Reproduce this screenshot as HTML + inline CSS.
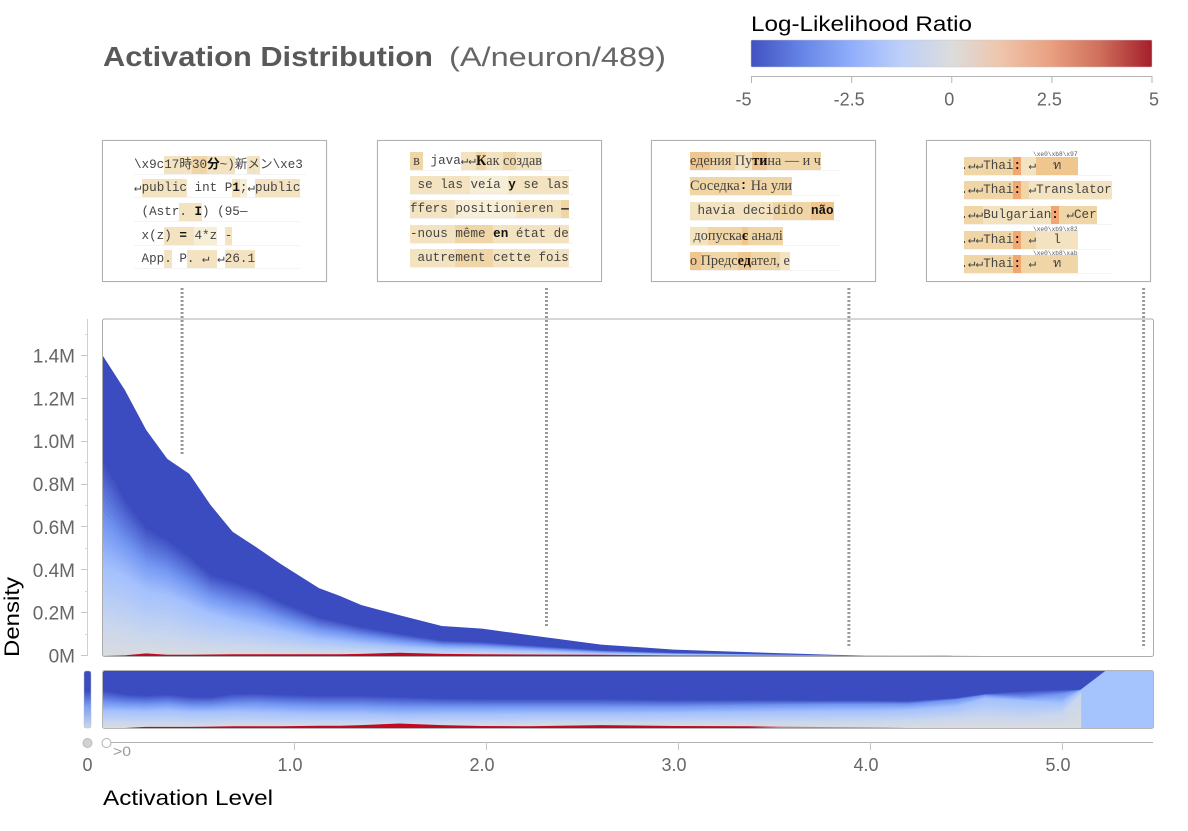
<!DOCTYPE html>
<html lang="en">
<head>
<meta charset="utf-8">
<title>Activation Distribution</title>
<style>
html,body{margin:0;padding:0;background:#fff;}
#root{position:relative;width:1188px;height:831px;overflow:hidden;font-family:"Liberation Sans","Noto Sans CJK JP",sans-serif;}
svg{position:absolute;left:0;top:0;}
.box{position:absolute;top:140px;height:140px;width:223px;border:1px solid #b0b0b0;background:#fff;box-shadow:0 0 1px #ddd;}
.row{position:absolute;height:18px;line-height:18px;white-space:pre;overflow:hidden;font-family:"Liberation Mono","Noto Sans CJK JP",monospace;font-size:12.6px;color:#444;box-shadow:0 1px 0 #f3f3f3;filter:blur(.3px);}
.row span{display:inline-block;height:18px;vertical-align:top;}
.s{font-family:"Liberation Serif",serif;font-size:14.2px;}
.b{font-weight:bold;color:#111;}
.a{background:#f7eed8;}
.c{background:#f4e3c0;}
.d{background:#f0d6a6;}
.e{background:#f0c68f;}
.f{background:#f2a670;}
.tiny{position:absolute;font:6.2px "Liberation Mono",monospace;color:#555;white-space:pre;}
</style>
</head>
<body>
<div id="root">

<div class="box" style="left:102px">
 <div class="row" style="left:31px;top:15px;width:172px"><span>\x9c</span><span class="c">17時</span><span class="d">30</span><span class="c b">分</span><span class="c">~)</span><span>新</span><span class="c">メ</span><span>ン\xe3</span></div>
 <div class="row" style="left:31px;top:38px;width:168px"><span>↵</span><span class="c">public</span><span> int P</span><span class="c b">1</span><span class="a">;</span><span>↵</span><span class="c">public</span></div>
 <div class="row" style="left:31px;top:62px;width:165px"><span> (Astr</span><span class="c">. </span><span class="c b">I</span><span>) (95—</span></div>
 <div class="row" style="left:31px;top:86px;width:165px"><span> x(z</span><span class="c">)</span><span class="c b"> = </span><span class="a">4*z</span><span> </span><span class="c">-</span></div>
 <div class="row" style="left:31px;top:109px;width:165px"><span> App</span><span class="c">.</span><span> P</span><span class="c">. ↵ </span><span>↵</span><span class="c">26.1</span></div>
</div>

<div class="box" style="left:377px">
 <div class="row" style="left:32px;top:11px;width:163px"><span class="d s" style="width:13px;text-align:center">в</span><span> java</span><span class="c">↵↵</span><span class="d s b">К</span><span class="c s">ак </span><span class="d s">со</span><span class="c s">здав</span></div>
 <div class="row" style="left:32px;top:35px;width:163px"><span class="c"> se </span><span class="c">las </span><span class="a">veía </span><span class="c b">y</span><span class="c"> se las</span></div>
 <div class="row" style="left:32px;top:59px;width:163px"><span class="c">ffers </span><span class="a">position</span><span class="c">ieren </span><span class="d b">—</span></div>
 <div class="row" style="left:32px;top:84px;width:163px"><span class="c">-nous </span><span class="d">même </span><span class="c b">en </span><span class="c">état de</span></div>
 <div class="row" style="left:32px;top:108px;width:163px"><span class="c"> autre</span><span class="d">ment </span><span class="c">cette fois</span></div>
</div>

<div class="box" style="left:651px">
 <div class="row" style="left:38px;top:11px;width:150px"><span class="e s">еде</span><span class="d s">ния </span><span class="c s">Пу</span><span class="e s b">ти</span><span class="d s">на — и ч</span></div>
 <div class="row" style="left:38px;top:36px;width:150px"><span class="d s">Соседка</span><span class="d b">:</span><span class="d s"> На ули</span></div>
 <div class="row" style="left:38px;top:61px;width:150px"><span class="c"> havia deci</span><span class="d">dido </span><span class="e b">não</span></div>
 <div class="row" style="left:38px;top:86px;width:150px"><span class="c s"> до</span><span class="d s">пуска</span><span class="e s b">є</span><span class="d s"> аналі</span></div>
 <div class="row" style="left:38px;top:111px;width:150px"><span class="e s">о </span><span class="d s">Предс</span><span class="e s b">ед</span><span class="d s">ател,</span><span class="c s"> е</span></div>
</div>

<div class="box" style="left:926px">
 <div class="tiny" style="left:106px;top:10px">\xe0\xb8\x97</div>
 <div class="tiny" style="left:106px;top:85px">\xe0\xb9\x82</div>
 <div class="tiny" style="left:106px;top:109px">\xe0\xb8\xab</div>
 <div class="row" style="left:37px;top:16px;width:149px"><span class="d" style="margin-left:-3.5px">.↵↵Thai</span><span class="f b">:</span><span class="c"> ↵</span><span class="e" style="width:42px;text-align:center">ท</span></div>
 <div class="row" style="left:37px;top:40px;width:149px"><span class="d" style="margin-left:-3.5px">.↵↵Thai</span><span class="f b">:</span><span class="d"> </span><span class="c">↵Translator</span></div>
 <div class="row" style="left:37px;top:65px;width:149px"><span class="d" style="margin-left:-3.5px">.↵↵</span><span class="c">Bulgarian</span><span class="f b">:</span><span class="d"> ↵Cer</span></div>
 <div class="row" style="left:37px;top:90px;width:149px"><span class="d" style="margin-left:-3.5px">.↵↵Thai</span><span class="f b">:</span><span class="d"> ↵</span><span class="c" style="width:42px;text-align:center">l</span></div>
 <div class="row" style="left:37px;top:114px;width:149px"><span class="d" style="margin-left:-3.5px">.↵↵Thai</span><span class="f b">:</span><span class="d"> ↵</span><span class="d" style="width:42px;text-align:center">ท</span></div>
</div>

<svg id="chart" width="1188" height="831" viewBox="0 0 1188 831">
 <defs>
  <linearGradient id="legendGrad">
   <stop offset="0" stop-color="#4151c2"/><stop offset=".12" stop-color="#6482e4"/><stop offset=".25" stop-color="#90aefa"/><stop offset=".37" stop-color="#bccefa"/><stop offset=".5" stop-color="#dcdcdc"/><stop offset=".62" stop-color="#eec6ad"/><stop offset=".75" stop-color="#e99f80"/><stop offset=".87" stop-color="#cf6f5c"/><stop offset="1" stop-color="#a41e2b"/>
  </linearGradient>
  <linearGradient id="miniGrad" x1="0" y1="0" x2="0" y2="1">
   <stop offset="0" stop-color="#3b4cc0"/><stop offset=".35" stop-color="#3b4cc0"/><stop offset=".62" stop-color="#7c9ef5"/><stop offset="1" stop-color="#cdd8ee"/>
  </linearGradient>
  <linearGradient id="redGrad" gradientUnits="userSpaceOnUse" x1="103" y1="0" x2="890" y2="0">
   <stop offset="0" stop-color="#c20a24"/><stop offset=".62" stop-color="#c20a24"/><stop offset=".72" stop-color="#c43a48"/><stop offset="1" stop-color="#cf8088"/>
  </linearGradient>
  <linearGradient id="stripRedGrad" gradientUnits="userSpaceOnUse" x1="103" y1="0" x2="890" y2="0">
   <stop offset="0" stop-color="#c20a24"/><stop offset=".82" stop-color="#c20a24"/><stop offset=".86" stop-color="#cf7b84"/><stop offset="1" stop-color="#cf8088"/>
  </linearGradient>
  <clipPath id="mainClip"><rect x="103" y="319" width="1050" height="337"/></clipPath>
  <clipPath id="stripClip"><rect x="103" y="671" width="1050" height="57" rx="2"/></clipPath>
 </defs>
 <g id="layer"></g>
</svg>
</div>

<script>
const activationLevels = [0.005,0.12,0.23,0.34,0.455,0.565,0.68,0.8,0.93,1.13,1.24,1.35,1.55,1.77,1.98,2.22,2.6,2.98,3.4,3.8,4.0,4.2,4.45,4.6,4.8,5.0,5.1];
const totalDensity = [1.4,1.24,1.055,0.92,0.85,0.705,0.58,0.51,0.43,0.317,0.28,0.238,0.19,0.14,0.128,0.098,0.053,0.03,0.017,0.006,0.002,0.001,0.0005,0.0003,0.0002,0.0001,0];
const darkShare = [0.67,0.60,0.58,0.60,0.56,0.55,0.61,0.62,0.60,0.58,0.58,0.58,0.56,0.53,0.52,0.52,0.52,0.50,0.50,0.49,0.49,0.48,0.53,0.60,0.66,0.68,0.67];
const midShare = [0.46,0.43,0.42,0.44,0.40,0.40,0.43,0.44,0.42,0.40,0.40,0.40,0.38,0.38,0.38,0.38,0.38,0.38,0.40,0.42,0.42,0.42,0.50,0.58,0.54,0.60,0.67];
const lightShare = [0.30,0.30,0.29,0.31,0.28,0.28,0.29,0.28,0.27,0.25,0.25,0.25,0.23,0.24,0.24,0.25,0.25,0.26,0.28,0.30,0.30,0.32,0.38,0.52,0.48,0.44,0.67];
const paleShare = [0.12,0.11,0.10,0.11,0.09,0.09,0.10,0.10,0.09,0.09,0.09,0.09,0.08,0.09,0.09,0.10,0.10,0.10,0.11,0.12,0.12,0.14,0.18,0.22,0.18,0.26,0.60];
const redDensity = [0,0.003,0.012,0.006,0.006,0.007,0.008,0.008,0.008,0.008,0.008,0.01,0.015,0.01,0.008,0.007,0.006,0.003,0.003,0.003,0.002,0,0,0,0,0,0];
const redShare = [0,0,0.02,0.02,0.02,0.025,0.03,0.03,0.03,0.04,0.04,0.05,0.08,0.05,0.035,0.03,0.05,0.035,0.03,0.015,0.012,0,0,0,0,0,0];
const tailLevels = [5.1,5.225,5.5];
const tailShare = [0.68,1,1];
const yTicks = [0,0.2,0.4,0.6,0.8,1.0,1.2,1.4];
const yTickLabels = ["0M","0.2M","0.4M","0.6M","0.8M","1.0M","1.2M","1.4M"];
const yMinorTicks = [0.1,0.3,0.5,0.7,0.9,1.1,1.3,1.5];
const xTicks = [1,2,3,4,5];
const xTickLabels = ["1.0","2.0","3.0","4.0","5.0"];
const legendTicks = [-5,-2.5,0,2.5,5];
const legendLabels = ["-5","-2.5","0","2.5","5"];
const exampleLevels = [0.417,2.315,3.89,5.425];
const exampleDensity = [0.933,0.135,0.037,0.037];

const NS = "http://www.w3.org/2000/svg";
const layer = document.getElementById("layer");
const xScale = a => 102 + 192 * a;
const yScale = m => 656 - 214.3 * m;
const stripY = f => 728 - 57 * f;
const legendX = v => 751.5 + (v + 5) * 40.05;

function add(tag, attrs, parent) {
  const el = document.createElementNS(NS, tag);
  for (const k in attrs) el.setAttribute(k, attrs[k]);
  (parent || layer).appendChild(el);
  return el;
}
function label(str, x, y, size, fill, anchor, width) {
  const el = add("text", {x:x, y:y, "font-size":size, fill:fill, "text-anchor":anchor || "start"});
  if (width) { el.setAttribute("textLength", width); el.setAttribute("lengthAdjust", "spacingAndGlyphs"); }
  el.textContent = str;
  return el;
}
function hex(c){return [parseInt(c.slice(1,3),16),parseInt(c.slice(3,5),16),parseInt(c.slice(5,7),16)];}
function mix(a,b,t){const p=hex(a),q=hex(b);return "rgb("+p.map((v,i)=>Math.round(v+(q[i]-v)*t)).join(",")+")";}

const boundaries = [darkShare, midShare, lightShare, paleShare];
const boundaryColors = ["#3b4cc0","#7396f2","#a5c2fd","#c9d6ee","#dadcde"];
const STEPS = 10;

function drawStack(parent, heightAt, prefix) {
  const base = activationLevels.map((a,i)=>xScale(a)+","+heightAt(i,0).toFixed(2));
  const baseline = base.slice().reverse().join(" ");
  const top = activationLevels.map((a,i)=>xScale(a)+","+heightAt(i,1).toFixed(2)).join(" ");
  const full = add("polygon",{points:top+" "+baseline,fill:boundaryColors[0]},parent);
  
  
  for (let b=0;b<boundaries.length;b++) {
    const upper = boundaries[b];
    const lower = b+1<boundaries.length ? boundaries[b+1] : activationLevels.map(()=>0);
    for (let s=0;s<STEPS;s++) {
      const t=s/STEPS;
      const pts = activationLevels.map((a,i)=>xScale(a)+","+heightAt(i,upper[i]+(lower[i]-upper[i])*t).toFixed(2)).join(" ");
      const band = add("polygon",{points:pts+" "+baseline,fill:mix(boundaryColors[b],boundaryColors[b+1],t)},parent);
      
      
    }
  }
}

/* main chart */
const mainBg = add("rect",{x:103,y:319,width:1050,height:337,fill:"#fff"});


const mainG = add("g",{"clip-path":"url(#mainClip)"});


drawStack(mainG,(i,f)=>yScale(totalDensity[i]*f),"main");
const mainRedTop = activationLevels.map((a,i)=>xScale(a)+","+yScale(redDensity[i]).toFixed(2)).join(" ");
const mainRed = add("polygon",{points:mainRedTop+" "+xScale(5.1)+",656 "+xScale(0.005)+",656",fill:"url(#redGrad)"},mainG);


const mainFrame = add("rect",{x:102.5,y:319,width:1051,height:337.5,rx:2,fill:"none",stroke:"#ababab"});



/* normalised strip */
const stripG = add("g",{"clip-path":"url(#stripClip)"});


const stripBack = add("rect",{x:103,y:671,width:1050,height:57,fill:"#3b4cc0"},stripG);


drawStack(stripG,(i,f)=>stripY(f),"strip");
const stripRedTop = activationLevels.map((a,i)=>xScale(a)+","+stripY(redShare[i]).toFixed(2)).join(" ");
const stripRed = add("polygon",{points:stripRedTop+" "+xScale(5.1)+",728 "+xScale(0.005)+",728",fill:"url(#stripRedGrad)"},stripG);


const tailPts = tailLevels.map((a,i)=>xScale(a)+","+stripY(tailShare[i]).toFixed(2)).join(" ");
const tail = add("polygon",{points:tailPts+" "+xScale(5.5)+",728 "+xScale(5.1)+",728",fill:"#a5c3fd"},stripG);


const stripFrame = add("rect",{x:102.5,y:670.5,width:1051,height:58,rx:2,fill:"none",stroke:"#b5b5b5"});


const mini = add("rect",{x:84,y:671,width:7,height:57,rx:2,fill:"url(#miniGrad)",stroke:"#bbb","stroke-width":0.5});



/* y axis */
const yAxis = add("path",{d:"M87.5 319V"+yScale(0)+"",stroke:"#d0d0d0",fill:"none"});


yTicks.forEach((v,i)=>{
  const y=Math.round(yScale(v))-0.5;
  const t=add("line",{x1:81,x2:88,y1:y,y2:y,stroke:"#c8c8c8"});
  
  
  const l=label(yTickLabels[i],75,yScale(v)+6.5,19,"#666","end");
  
  
});
yMinorTicks.forEach(v=>{
  const y=Math.round(yScale(v))-0.5;
  const t=add("line",{x1:85,x2:88,y1:y,y2:y,stroke:"#d4d4d4"});
  
  
});
const yTitle = add("text",{transform:"translate(19,657) rotate(-90)","font-size":21,fill:"#000",textLength:80,lengthAdjust:"spacingAndGlyphs"});
yTitle.textContent="Density";



/* x axis */
const xAxis = add("line",{x1:103,x2:1153,y1:742.5,y2:742.5,stroke:"#b0b0b0"});


xTicks.forEach((v,i)=>{
  const x=Math.round(xScale(v))+0.5;
  const t=add("line",{x1:x,x2:x,y1:742,y2:750,stroke:"#c4c4c4"});
  
  
  const l=label(xTickLabels[i],xScale(v)-4,771,18,"#666","middle");
  
  
});
const zeroDot = add("circle",{cx:87.5,cy:743,r:4.5,fill:"#d2d2d2",stroke:"#bbb"});


const posDot = add("circle",{cx:106.5,cy:743,r:4.5,fill:"#fff",stroke:"#b0b0b0"});


const gtZero = label(">0",113,756,14,"#999","start",18);


const zeroLabel = label("0",87.5,771,18,"#666","middle");


const xTitle = label("Activation Level",103,805,21,"#000","start",170);



/* connectors */
exampleLevels.forEach((a,i)=>{
  const x=xScale(a);
  const c=add("line",{x1:x,x2:x,y1:288,y2:yScale(exampleDensity[i]),stroke:"#999","stroke-width":3,"stroke-dasharray":"2 2"});
  
  
});

/* title */
const title = label("Activation Distribution",103,66,28,"#595959","start",330);
title.setAttribute("font-weight","bold");


const subtitle = label("(A/neuron/489)",449,66,27,"#666","start",217);



/* legend */
const legendTitle = label("Log-Likelihood Ratio",751,31,21,"#000","start",221);


const legendBar = add("rect",{x:751,y:40,width:401,height:27,rx:1,fill:"url(#legendGrad)",stroke:"#c8c8c8","stroke-width":0.5});


const legendAxis = add("line",{x1:751,x2:1152,y1:76.5,y2:76.5,stroke:"#b5b5b5"});


legendTicks.forEach((v,i)=>{
  const x=legendX(v);
  const t=add("line",{x1:x,x2:x,y1:76,y2:83,stroke:"#b5b5b5"});
  
  
  const dx = i===0 ? -8 : (i===legendTicks.length-1 ? 2 : -2.5);
  const l=label(legendLabels[i],x+dx,105.5,18,"#666","middle");
  
  
});
</script>
</body>
</html>
